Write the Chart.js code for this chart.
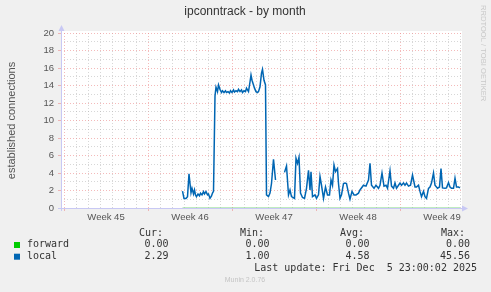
<!DOCTYPE html>
<html>
<head>
<meta charset="utf-8">
<script src="https://cdn.jsdelivr.net/npm/chart.js@4/dist/chart.umd.min.js"></script>
<style>
  html, body { margin: 0; padding: 0; background: #f0f0f0; }
  #wrap { position: relative; width: 491px; height: 292px; }
</style>
</head>
<body>
<div id="wrap"><canvas id="graph"></canvas></div>
<script>
// time axis in hours since the left edge of the graph (2h per RRD step)
const hours = [
  243, 246, 250, 253, 256, 258, 260, 262, 265, 267, 269, 271, 274, 277, 279, 282, 285, 287, 290, 293,
  295, 298, 301, 303, 305, 308, 310, 313, 315, 318, 321, 323, 326, 329, 331, 334, 337, 339, 342, 345,
  347, 350, 353, 355, 358, 361, 363, 366, 369, 371, 375, 378, 380, 382, 385, 387, 390, 393, 395, 398,
  401, 403, 406, 409, 411, 415, 418, 421, 425, 429, 438, 447, 451, 455, 458, 461, 467, 470, 473, 476,
  479, 483, 487, 491, 495, 498, 500, 503, 508, 511, 515, 518, 521, 525, 529, 533, 537, 540, 543, 546,
  549, 553, 555, 558, 561, 565, 568, 571, 575, 578, 582, 586, 590, 595, 598, 605, 610, 615, 618, 621,
  626, 630, 635, 638, 642, 646, 650, 653, 658, 661, 665, 668, 671, 675, 678, 681, 685, 688, 691, 695,
  699, 703, 708, 711, 715, 718, 721, 725, 728, 731, 735, 738, 741, 745, 748, 753, 757, 760, 763, 768,
  771, 775, 778, 781, 785, 788, 791, 795, 798
];
const localValues = [
  1.94, 1.1, 1.1, 1.3, 3.9, 2.8, 1.75, 2.25, 1.6, 2.06, 1.5, 1.3, 1.6, 1.4, 1.7, 1.5, 1.87, 1.6, 1.87, 1.5,
  1.6, 1.1, 1.37, 1.7, 1.9, 12.8, 13.8, 13.3, 14.06, 13.56, 13.2, 13.4, 13.2, 13.4, 13.2, 13.3, 13.15, 13.4, 13.2, 13.5,
  13.25, 13.4, 13.3, 13.56, 13.3, 13.5, 13.2, 13.4, 13.3, 13.7, 13.3, 14.4, 15.2, 14.6, 14.06, 13.7, 13.3, 13.2, 13.3, 13.86,
  15.4, 15.85, 14.6, 14.06, 1.5, 1.3, 1.7, 2.8, 5.56, 3.2, null, 4.07, 4.8, 1.5, 2.06, 1.3, 1.1, 5.7, 5.1, 5.8,
  1.7, 1.2, 1.1, 2.25, 4.3, 2.05, 4.15, 1.3, 1.5, 1.1, 1.5, 3.6, 2.6, 1.1, 2.4, 1.5, 1.5, 3.2, 2.6, 4.9,
  4.15, 4.5, 2.8, 1.1, 1.5, 2.8, 2.85, 2.8, 1.7, 1.0, 1.9, 1.5, 1.5, 1.7, 2.06, 2.6, 2.5, 3.2, 5.1, 2.6,
  2.25, 2.6, 2.25, 2.6, 4.0, 2.5, 2.6, 2.25, 4.26, 2.5, 2.25, 2.85, 2.25, 2.6, 2.85, 2.6, 2.85, 2.6, 2.85, 2.5,
  2.6, 3.77, 2.4, 2.4, 2.6, 1.9, 1.3, 1.9, 1.3, 1.1, 2.25, 2.4, 2.85, 4.0, 2.6, 2.25, 2.4, 4.5, 2.3, 2.25,
  2.3, 2.9, 2.4, 2.25, 2.25, 3.4, 2.4, 2.4, 2.29
];
const forwardHours = [243, 798];
const forwardValues = [0, 0];

const weekStarts = [6, 174, 342, 510, 678];
const weekLabels = ['Week 45', 'Week 46', 'Week 47', 'Week 48', 'Week 49'];
const yMax = 20;

const seriesNames = ['forward', 'local'];
const seriesColors = ['#00cc00', '#0066b3'];
const curValues = ['0.00', '2.29'];
const minValues = ['0.00', '1.00'];
const avgValues = ['0.00', '4.58'];
const maxValues = ['0.00', '45.56'];
const lastUpdate = 'Last update: Fri Dec  5 23:00:02 2025';

const RED_GRID = 'rgba(236, 140, 140, 0.6)';
const GREY_GRID = 'rgba(175, 175, 175, 0.5)';
const AXIS = '#c8c8f4';

const weekMids = weekStarts.map(s => s + 84);

const muninDecor = {
    id: 'muninDecor',
    beforeDraw(chart) {
        const ctx = chart.ctx;
        const a = chart.chartArea;
        ctx.save();
        ctx.fillStyle = '#f0f0f0';
        ctx.fillRect(0, 0, chart.width, chart.height);
        ctx.fillStyle = '#ffffff';
        ctx.fillRect(a.left, a.top - 2, a.right - a.left + 1, a.bottom - a.top + 2);
        ctx.restore();
    },
    beforeDatasetsDraw(chart) {
        const ctx = chart.ctx;
        const a = chart.chartArea;
        ctx.save();
        ctx.strokeStyle = AXIS;
        ctx.fillStyle = AXIS;
        ctx.lineWidth = 1;
        ctx.beginPath();
        ctx.moveTo(a.left + 0.5, a.bottom + 3);
        ctx.lineTo(a.left + 0.5, a.top - 4);
        ctx.moveTo(a.left - 3, a.bottom + 0.5);
        ctx.lineTo(a.right + 4, a.bottom + 0.5);
        ctx.stroke();
        ctx.beginPath();
        ctx.moveTo(a.left + 0.5, a.top - 8);
        ctx.lineTo(a.left - 2.5, a.top - 2);
        ctx.lineTo(a.left + 3.5, a.top - 2);
        ctx.closePath();
        ctx.fill();
        ctx.beginPath();
        ctx.moveTo(a.right + 7, a.bottom + 0.5);
        ctx.lineTo(a.right + 1, a.bottom - 2.5);
        ctx.lineTo(a.right + 1, a.bottom + 3.5);
        ctx.closePath();
        ctx.fill();
        ctx.restore();
    },
    afterDraw(chart) {
        const ctx = chart.ctx;
        ctx.save();
        ctx.textBaseline = 'middle';

        ctx.fillStyle = '#333';
        ctx.font = '12px "Liberation Sans", Arial, sans-serif';
        ctx.textAlign = 'center';
        ctx.fillText('ipconntrack - by month', 245, 12);

        ctx.font = '10px "DejaVu Sans Mono", monospace';
        ctx.fillStyle = '#333';
        ctx.textAlign = 'left';
        ctx.fillText('Cur:', 139, 233);
        ctx.fillText('Min:', 240, 233);
        ctx.fillText('Avg:', 340, 233);
        ctx.fillText('Max:', 441, 233);
        seriesNames.forEach((name, i) => {
            const y = 244.5 + i * 11.7;
            ctx.fillStyle = seriesColors[i];
            ctx.fillRect(14, y - 2.5, 6, 6);
            ctx.fillStyle = '#333';
            ctx.textAlign = 'left';
            ctx.fillText(name, 27, y);
            ctx.textAlign = 'right';
            ctx.fillText(curValues[i], 168.5, y);
            ctx.fillText(minValues[i], 269.5, y);
            ctx.fillText(avgValues[i], 369.5, y);
            ctx.fillText(maxValues[i], 470, y);
        });
        ctx.textAlign = 'right';
        ctx.fillText(lastUpdate, 477, 268.5);

        ctx.textAlign = 'center';
        ctx.fillStyle = '#c4c4c4';
        ctx.font = '7px "Liberation Sans", Arial, sans-serif';
        ctx.fillText('Munin 2.0.76', 245, 280.5);

        ctx.translate(483.5, 5);
        ctx.rotate(Math.PI / 2);
        ctx.textAlign = 'left';
        ctx.fillStyle = '#c8c8c8';
        ctx.font = '7.6px "Liberation Sans", Arial, sans-serif';
        ctx.fillText('RRDTOOL / TOBI OETIKER', 0, 0);
        ctx.restore();
    }
};

const ctx = document.getElementById('graph').getContext('2d');
new Chart(ctx, {
    type: 'line',
    data: {
        datasets: [{
            label: seriesNames[0],
            data: forwardHours.map((h, i) => ({ x: h, y: forwardValues[i] })),
            borderColor: '#7fd87f',
            borderWidth: 1,
            pointRadius: 0,
            tension: 0
        }, {
            label: seriesNames[1],
            data: hours.map((h, i) => ({ x: h, y: localValues[i] })),
            borderColor: seriesColors[1],
            borderWidth: 1.5,
            pointRadius: 0,
            tension: 0,
            spanGaps: false
        }]
    },
    options: {
        responsive: true,
        maintainAspectRatio: false,
        animation: false,
        events: [],
        layout: { padding: { top: 33, right: 30, left: 0, bottom: 0 } },
        plugins: {
            legend: { display: false },
            title: { display: false },
            tooltip: { enabled: false }
        },
        scales: {
            x: {
                type: 'linear',
                min: 0,
                max: 800,
                afterFit(scale) { scale.height = 84; },
                afterBuildTicks(scale) {
                    const t = [];
                    for (let h = 6; h < 800; h += 24) t.push({ value: h });
                    weekMids.forEach(m => t.push({ value: m }));
                    t.sort((p, q) => p.value - q.value);
                    scale.ticks = t;
                },
                border: { display: false, dash: [1, 2] },
                grid: {
                    color(c) {
                        const v = c.tick.value;
                        if (weekStarts.includes(v)) return RED_GRID;
                        if ((v - 6) % 24 === 0) return GREY_GRID;
                        return 'rgba(0,0,0,0)';
                    },
                    tickColor(c) {
                        return weekStarts.includes(c.tick.value) ? RED_GRID : 'rgba(0,0,0,0)';
                    },
                    tickLength: 3
                },
                ticks: {
                    autoSkip: false,
                    maxRotation: 0,
                    padding: 1,
                    color: '#555',
                    font: { family: '"Liberation Sans", Arial, sans-serif', size: 9.5 },
                    callback(v) {
                        const i = weekMids.indexOf(v);
                        return i >= 0 ? weekLabels[i] : '';
                    }
                }
            },
            y: {
                min: 0,
                max: yMax,
                afterFit(scale) { scale.width = 61; },
                border: { display: false, dash: [1, 2] },
                grid: {
                    color(c) { return c.tick.value % 2 === 0 ? RED_GRID : GREY_GRID; },
                    tickColor(c) { return c.tick.value % 2 === 0 ? RED_GRID : 'rgba(0,0,0,0)'; },
                    tickLength: 3
                },
                ticks: {
                    stepSize: 1,
                    autoSkip: false,
                    padding: 4,
                    color: '#555',
                    font: { family: '"Liberation Sans", Arial, sans-serif', size: 9.5 },
                    callback(v) { return v % 2 === 0 ? String(v) : ''; }
                },
                title: {
                    display: true,
                    text: 'established connections',
                    color: '#555',
                    padding: { top: 5, bottom: 0 },
                    font: { family: '"Liberation Sans", Arial, sans-serif', size: 11 }
                }
            }
        }
    },
    plugins: [muninDecor]
});
</script>
</body>
</html>
